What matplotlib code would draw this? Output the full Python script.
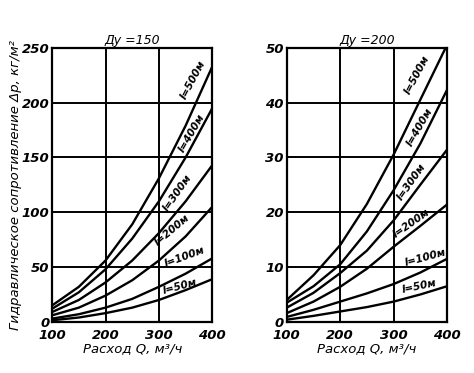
import matplotlib
matplotlib.use("Agg")
import matplotlib.pyplot as plt

# Расход, м3/ч
q = [100, 150, 200, 250, 300, 350, 400]

# Ду = 150, кг/м2
dp150 = {
    500: [15, 32, 56, 89, 131, 179, 233],
    400: [12, 27, 48, 76, 110, 150, 195],
    300: [9, 20, 36, 56, 81, 110, 143],
    200: [6, 13, 24, 38, 56, 78, 105],
    100: [3, 7, 13, 21, 32, 44, 58],
    50: [1.5, 4, 8, 13, 20, 29, 39],
}
# Ду = 200, кг/м2
dp200 = {
    500: [4.0, 8.5, 14.0, 21.5, 30.5, 40.5, 50.5],
    400: [3.5, 6.5, 10.5, 16.5, 24, 32.5, 42.3],
    300: [2.6, 5.3, 8.9, 13, 18.5, 25, 31.4],
    200: [1.6, 3.7, 6.4, 9.7, 13.7, 17.5, 21.4],
    100: [0.9, 2.2, 3.7, 5.2, 6.9, 9, 11.5],
    50: [0.4, 1.1, 1.9, 2.7, 3.7, 5, 6.5],
}

# where the l=... labels sit: (Q, dp, angle)
lab150 = {500: (364, 221, 62), 400: (362, 172, 60), 300: (334, 118, 55),
          200: (325, 84, 40), 100: (349, 59, 20), 50: (340, 32, 15)}
lab200 = {500: (344, 45, 62), 400: (349, 35.6, 60), 300: (333, 25.5, 55),
          200: (334, 18.0, 35), 100: (360, 11.8, 15), 50: (349, 6.4, 12)}

plt.rcParams['font.family'] = 'DejaVu Sans'
plt.rcParams['font.style'] = 'italic'
plt.rcParams['font.weight'] = 'bold'

fig = plt.figure(figsize=(4.74, 3.73), dpi=100)
ax1 = fig.add_axes([0.110, 0.137, 0.338, 0.735])
ax2 = fig.add_axes([0.605, 0.137, 0.338, 0.735])


def draw(ax, data, labels, ymax, ystep, title):
    for l, vals in data.items():
        ax.plot(q, vals, color='black', lw=1.7, solid_joinstyle='round')
        x, y, a = labels[l]
        ax.text(x, y, "l=%dм" % l, rotation=a, fontsize=7.5, ha='center',
                va='center', rotation_mode='anchor')
    ax.set_xlim(100, 400)
    ax.set_ylim(0, ymax)
    ax.set_xticks([100, 200, 300, 400])
    ax.set_yticks(range(0, ymax + 1, ystep))
    ax.grid(True, color='black', lw=1.4)
    ax.tick_params(length=0, labelsize=9.5)
    ax.tick_params(axis='x', pad=5)
    ax.tick_params(axis='y', pad=2)
    for s in ax.spines.values():
        s.set_linewidth(1.6)
    ax.set_title(title, fontsize=9, pad=3)
    ax.set_xlabel("Расход Q, м³/ч", fontsize=9.5, labelpad=0)


draw(ax1, dp150, lab150, 250, 50, "Ду =150")
draw(ax2, dp200, lab200, 50, 10, "Ду =200")
ax1.set_ylabel("Гидравлическое сопротивление Δр, кг/м²", fontsize=9.5, labelpad=0)

fig.savefig("out.png", dpi=100, facecolor='white')
